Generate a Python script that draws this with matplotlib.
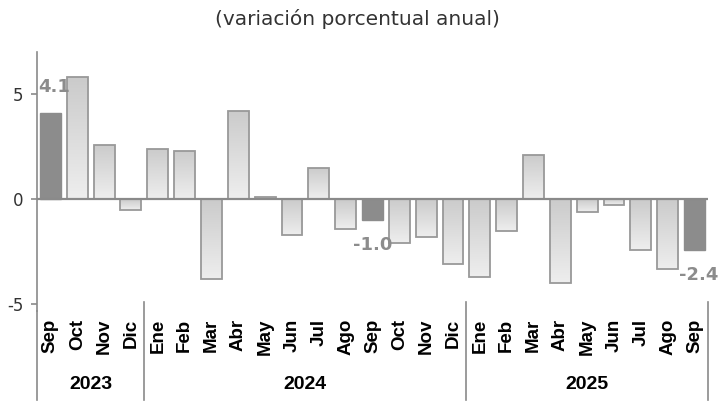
import numpy as np
import matplotlib
matplotlib.use("Agg")
import matplotlib.pyplot as plt
from matplotlib import font_manager

# datos: variación porcentual anual
meses = ["Sep", "Oct", "Nov", "Dic",
         "Ene", "Feb", "Mar", "Abr", "May", "Jun", "Jul", "Ago", "Sep", "Oct", "Nov", "Dic",
         "Ene", "Feb", "Mar", "Abr", "May", "Jun", "Jul", "Ago", "Sep"]
valores = [4.1, 5.8, 2.6, -0.5,
           2.4, 2.3, -3.8, 4.2, 0.1, -1.7, 1.5, -1.4, -1.0, -2.1, -1.8, -3.1,
           -3.7, -1.5, 2.1, -4.0, -0.6, -0.3, -2.4, -3.3, -2.4]
anios = ["2023", "2024", "2025"]
meses_por_anio = [4, 12, 9]
resaltados = [0, 12, 24]

names = {f.name for f in font_manager.fontManager.ttflist}
narrow = "Liberation Sans Narrow" if "Liberation Sans Narrow" in names else "Liberation Sans"

fig = plt.figure(figsize=(7.23, 4.05), dpi=100)
ax = fig.add_axes([0.0512, 0.233, 0.928, 0.6386])

x = np.arange(len(valores))
ancho = 0.78
grad = np.linspace(0, 1, 100).reshape(-1, 1)
cmap = matplotlib.colors.LinearSegmentedColormap.from_list("g", ["#cbcbcb", "#eeeeee"])

for i, v in enumerate(valores):
    if i in resaltados:
        ax.bar(x[i], v, width=ancho, color="#8c8c8c", edgecolor="#8c8c8c", linewidth=1.0, zorder=3)
    else:
        b = ax.bar(x[i], v, width=ancho, color="none", edgecolor="#999999", linewidth=1.3, zorder=4)[0]
        im = ax.imshow(grad, cmap=cmap, aspect="auto", origin="upper",
                       extent=[x[i] - ancho / 2, x[i] + ancho / 2, min(0, v), max(0, v)], zorder=3)
        im.set_clip_path(b)

ax.axhline(0, color="#8a8a8a", linewidth=1.6, zorder=5)

ax.set_xlim(-0.5, len(valores) - 0.5)
ax.set_ylim(-5.3, 7)

# etiquetas de datos
for i in resaltados:
    v = valores[i]
    off = 19 if v > 0 else -18
    dx = 3 if i != 12 else 0
    ax.annotate(f"{v:.1f}", (x[i], v), xytext=(dx, off), textcoords="offset points",
                ha="center", va="center", fontsize=13, fontweight="bold", color="#8c8c8c", zorder=6)

for s in ["top", "right", "bottom"]:
    ax.spines[s].set_visible(False)
ax.spines["left"].set_color("#8a8a8a")
ax.spines["left"].set_linewidth(1.2)

ax.set_yticks([-5, 0, 5])
ax.set_yticklabels(["-5", "0", "5"], fontsize=12, color="#333333")
ax.tick_params(axis="y", length=4, color="#8a8a8a", width=1.2, pad=6)

ax.set_xticks(x)
ax.set_xticklabels(meses, rotation=90, fontsize=13.5, fontweight="bold", family=narrow)
ax.tick_params(axis="x", length=0, pad=6)

# separadores de años
trans = matplotlib.transforms.blended_transform_factory(ax.transData, ax.transAxes)
ax.plot([-0.5, -0.5], [0, -0.345], transform=trans, color="#8a8a8a", linewidth=1.2, clip_on=False)
inicio = -0.5
for n, a in zip(meses_por_anio, anios):
    fin = inicio + n
    ax.plot([fin, fin], [0.033, -0.345], transform=trans, color="#8a8a8a", linewidth=1.2, clip_on=False)
    ax.text((inicio + fin) / 2, -0.285, a, transform=trans, ha="center", va="center",
            fontsize=14, fontweight="bold", family=narrow)
    inicio = fin

fig.text(0.495, 0.953, "(variación porcentual anual)", ha="center", va="center",
         fontsize=14.5, color="#333333")

fig.savefig("out.png", dpi=100)
